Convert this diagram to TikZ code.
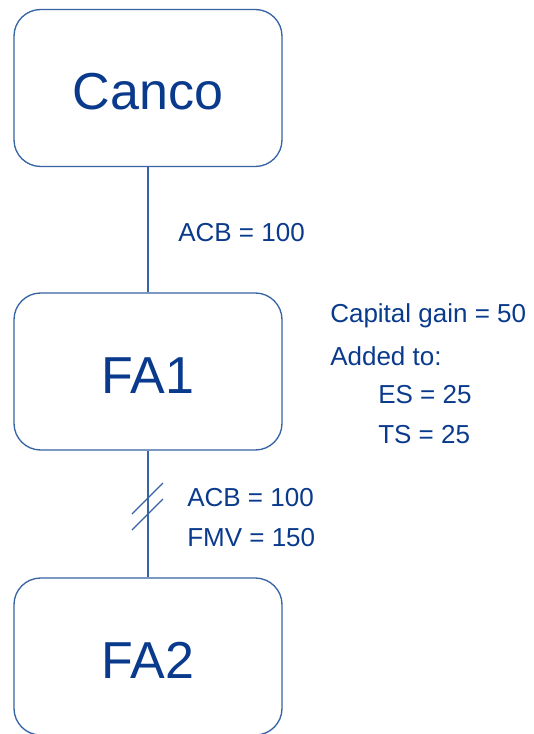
\documentclass[tikz,border=0pt]{standalone}
\usepackage{fontspec}
\setmainfont{Liberation Sans}
\definecolor{txtblue}{HTML}{0A3A8C}
\definecolor{lineblue}{HTML}{3563A3}
\begin{document}
\begin{tikzpicture}[x=0.75pt,y=-0.75pt,
  entity/.style={draw=lineblue,line width=1pt,rounded corners=20pt,minimum width=268*0.75pt,minimum height=157*0.75pt,inner sep=0pt,text height=33pt,text depth=0pt,text=txtblue,font=\fontsize{39}{44}\selectfont},
  lbl/.style={anchor=west,inner sep=0pt,text=txtblue,font=\fontsize{19.5}{22}\selectfont},
  conn/.style={draw=lineblue,line width=1pt}]
\useasboundingbox (0,0) rectangle (534,734);
\node[entity] (c) at (148,88) {Canco};
\node[entity] (fa1) at (148,371.5) {FA1};
\node[entity] (fa2) at (148,656.5) {FA2};
\draw[conn] (c) -- (fa1);
\draw[conn] (fa1) -- (fa2);
\coordinate (s1a) at (163,483); \coordinate (s1b) at (132,514);
\coordinate (s2a) at (163,499); \coordinate (s2b) at (132,530);
\draw[conn] (s1a) -- (s1b);
\draw[conn] (s2a) -- (s2b);
\node[lbl] (acb1) at (178,233) {ACB = 100};
\node[lbl] (cg) at (330,316) {Capital gain = 50};
\node[lbl] (add) at (330,356) {Added to:};
\node[lbl] (es) at (378,395) {ES = 25};
\node[lbl] (ts) at (378,435) {TS = 25};
\node[lbl] (acb2) at (187,498) {ACB = 100};
\node[lbl] (fmv) at (187,538) {FMV = 150};
\end{tikzpicture}
\end{document}
